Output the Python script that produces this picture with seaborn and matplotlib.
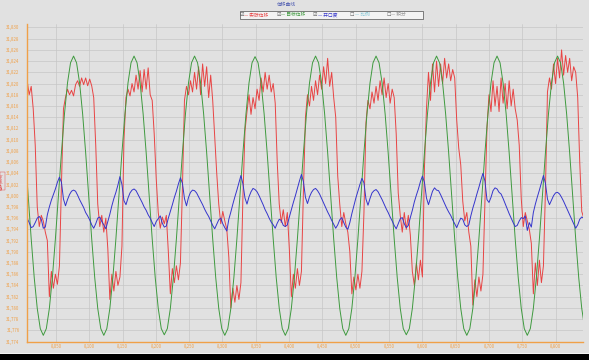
import numpy as np
import matplotlib
matplotlib.use("Agg")
import matplotlib.pyplot as plt
from matplotlib.ticker import FuncFormatter
from matplotlib.patches import Rectangle
import seaborn as sns

# 位移曲线：数值单位 µm，相对于 31.800 mm
BASE_MM = 31.800
START_S = 8.00368      # 第一个采样点 (s)
DT_RB = 0.003028       # 实际位移 / 开口度 采样间隔 (s)
DT_G = 0.004542        # 目标位移 采样间隔 (s)

actual_um = [
    19.5, 20.5, 18.0, 19.5, 15.5, 9.0, -2.0, -5.5, -3.5,
    -4.5, -6.5, -8.0, -18.0, -13.5, -16.5, -14.0, -15.8, -12.5, 2.0,
    15.5, 17.5, 19.0, 18.0, 18.8, 17.8, 19.8, 20.5, 19.5, 21.0,
    19.8, 21.0, 19.6, 20.8, 19.6, 17.5, 9.0, -1.5, -5.5, -3.5,
    -6.5, -4.0, -9.5, -18.5, -14.0, -17.0, -13.5, -16.0, -14.5, -9.0,
    10.0, 17.5, 19.0, 17.8, 20.0, 18.5, 21.5, 19.0, 22.3, 18.5,
    22.5, 19.0, 22.8, 18.0, 17.0, 11.0, 3.0, -3.0, -5.8, -3.8,
    -5.0, -3.5, -10.0, -17.5, -13.0, -15.5, -12.5, -15.0, -12.0, 1.5,
    17.0, 19.5, 18.0, 20.5, 18.5, 22.0, 19.0, 23.0, 18.0, 23.5,
    19.5, 23.0, 17.5, 21.5, 17.0, 10.5, 4.0, -1.5, -5.0, -2.8,
    -4.5, -6.0, -11.0, -20.0, -16.5, -19.0, -16.0, -18.5, -15.5, 0.0,
    11.5, 15.0, 18.0, 14.5, 17.5, 15.5, 19.0, 17.0, 21.0, 18.5,
    22.0, 19.0, 21.5, 18.5, 20.0, 16.5, 6.0, -1.5, -4.8, -2.5,
    -5.5, -3.0, -9.5, -18.0, -14.0, -16.5, -13.0, -16.0, -13.5, 1.0,
    14.0, 18.0, 16.0, 19.5, 17.0, 20.5, 18.0, 21.5, 19.0, 23.0,
    20.0, 24.5, 19.5, 22.0, 17.5, 14.0, 3.5, -1.5, -5.5, -3.0,
    -5.0, -6.5, -10.0, -17.5, -14.5, -16.8, -14.0, -16.5, -13.5, -3.0,
    13.0, 17.0, 15.5, 18.5, 16.5, 19.5, 17.0, 20.5, 18.0, 21.0,
    17.5, 20.0, 16.5, 19.0, 17.5, 11.0, 0.5, -3.5, -6.5, -3.0,
    -6.0, -3.5, -7.0, -13.5, -16.0, -12.0, -15.0, -11.5, -14.5, 5.0,
    15.5, 22.0, 17.0, 23.5, 18.5, 24.0, 19.5, 23.5, 20.0, 24.5,
    21.0, 23.5, 20.5, 22.5, 21.0, 13.5, 8.5, 5.5, -1.0, -4.5,
    -3.0, -6.5, -9.0, -19.5, -15.0, -18.0, -14.5, -17.0, -14.0, -1.0,
    12.0, 18.0, 15.0, 20.5, 16.0, 19.5, 15.0, 21.0, 16.5, 20.0,
    15.5, 20.5, 16.0, 19.0, 15.5, 13.5, 9.0, -0.5, -5.5, -3.0,
    -4.5, -6.0, -8.5, -17.5, -12.0, -16.0, -11.5, -15.5, -12.5, 1.0,
    18.5, 21.0, 19.0, 23.5, 20.0, 24.5, 21.0, 26.0, 21.5, 25.0,
    22.0, 24.5, 20.5, 23.0, 22.0, 17.5, 6.0, -2.8, -4.0,
]

target_um = [
    7.7, 0.0, -7.7, -14.6, -20.1, -23.7,
    -24.9, -23.7, -20.1, -14.6, -7.7, 0.0, 7.7, 14.6, 20.1, 23.7,
    24.9, 23.7, 20.1, 14.6, 7.7, 0.0, -7.7, -14.6, -20.1, -23.7,
    -24.9, -23.7, -20.1, -14.6, -7.7, 0.0, 7.7, 14.6, 20.1, 23.7,
    24.9, 23.7, 20.1, 14.6, 7.7, 0.0, -7.7, -14.6, -20.1, -23.7,
    -24.8, -23.7, -20.1, -14.6, -7.7, 0.0, 7.7, 14.6, 20.1, 23.7,
    24.9, 23.7, 20.1, 14.6, 7.7, 0.0, -7.7, -14.6, -20.1, -23.7,
    -24.9, -23.7, -20.1, -14.6, -7.7, 0.0, 7.7, 14.6, 20.1, 23.7,
    24.8, 23.7, 20.1, 14.6, 7.7, 0.0, -7.7, -14.6, -20.1, -23.7,
    -24.9, -23.7, -20.1, -14.6, -7.7, 0.0, 7.7, 14.6, 20.1, 23.7,
    24.9, 23.7, 20.1, 14.6, 7.7, 0.0, -7.7, -14.6, -20.1, -23.7,
    -24.9, -23.7, -20.1, -14.6, -7.7, 0.0, 7.7, 14.6, 20.1, 23.7,
    24.9, 23.7, 20.1, 14.6, 7.7, 0.0, -7.7, -14.6, -20.1, -23.7,
    -24.8, -23.7, -20.1, -14.6, -7.7, 0.0, 7.7, 14.6, 20.1, 23.7,
    24.9, 23.7, 20.1, 14.6, 7.7, 0.0, -7.7, -14.6, -20.1, -23.7,
    -24.9, -23.7, -20.1, -14.6, -7.7, 0.0, 7.7, 14.6, 20.1, 23.7,
    24.9, 23.7, 20.1, 14.6, 7.7, 0.0, -7.7, -14.6, -20.1, -23.7,
    -24.9, -23.7, -20.1, -14.6, -7.7, 0.0, 7.7, 14.6, 20.1, 23.7,
    24.9, 23.7, 20.1, 14.6, 7.7, 0.0, -7.7, -14.6, -20.1, -23.7,
]

opening_um = [
    -3.4, -4.0, -4.8, -5.7, -5.5, -4.8, -4.0, -3.7, -4.2,
    -5.8, -5.6, -3.4, -2.0, -0.8, 0.2, 1.2, 2.4, 3.3, 2.4,
    -0.6, -1.8, -0.7, 0.2, 0.8, 1.0, 0.8, 0.1, -0.7, -1.4,
    -2.1, -3.0, -3.6, -4.3, -5.2, -5.8, -5.0, -4.0, -3.8, -4.6,
    -5.2, -5.9, -4.6, -3.3, -1.8, -0.5, 0.6, 1.9, 3.4, 2.0,
    -0.9, -1.6, -0.4, 0.5, 1.0, 1.2, 0.9, 0.2, -0.5, -1.2,
    -2.0, -2.6, -3.4, -4.0, -4.8, -5.5, -4.6, -4.1, -3.6, -4.9,
    -5.6, -5.4, -4.0, -2.8, -1.6, -0.3, 0.8, 2.1, 3.2, 2.2,
    -0.5, -1.8, -0.3, 0.6, 1.0, 0.9, 0.5, -0.2, -0.9, -1.6,
    -2.4, -3.1, -3.7, -4.5, -5.3, -5.9, -5.1, -4.3, -4.0, -5.0,
    -5.7, -6.3, -4.2, -2.9, -1.5, -0.2, 1.0, 2.3, 3.6, 2.1,
    -0.4, -1.5, -0.2, 0.7, 1.3, 1.1, 0.7, 0.0, -0.8, -1.6,
    -2.5, -3.2, -4.0, -4.7, -5.2, -5.8, -4.9, -4.2, -4.4, -5.3,
    -5.5, -5.2, -3.8, -2.5, -1.2, 0.0, 1.3, 2.6, 3.8, 2.5,
    -0.3, -1.4, -0.2, 0.6, 1.1, 1.3, 0.9, 0.3, -0.5, -1.3,
    -2.1, -2.9, -3.6, -4.4, -5.1, -5.8, -5.2, -4.3, -3.9, -4.8,
    -5.6, -6.0, -4.8, -3.2, -1.8, -0.4, 0.8, 2.0, 3.1, 2.3,
    -0.6, -1.7, -0.5, 0.5, 0.9, 1.1, 0.7, 0.0, -0.7, -1.5,
    -2.3, -3.0, -3.8, -4.5, -5.3, -5.9, -5.0, -4.1, -3.9, -5.0,
    -5.7, -5.3, -3.9, -2.6, -1.1, 0.1, 1.2, 2.5, 3.5, 2.4,
    -0.4, -1.6, -0.4, 0.8, 1.4, 1.0, 0.9, 0.2, -0.6, -1.4,
    -2.2, -2.9, -3.5, -4.3, -5.0, -5.7, -4.8, -4.0, -4.2, -5.2,
    -5.5, -5.2, -3.6, -2.2, -1.0, 0.3, 1.5, 2.8, 4.0, 2.6,
    -0.7, -1.2, -0.3, 0.9, 1.4, 1.2, 0.6, 0.3, -0.5, -1.4,
    -2.3, -3.2, -4.0, -4.8, -5.5, -5.3, -4.5, -3.9, -4.1, -3.6,
    -6.2, -4.8, -5.6, -3.0, -1.5, -0.2, 1.0, 2.3, 3.6, 2.2,
    -0.6, -1.6, -0.8, 0.0, 0.5, 0.6, 0.3, -0.3, -1.0, -1.8,
    -2.6, -3.4, -4.2, -5.0, -5.8, -5.2, -4.2, -3.8, -4.0,
]

legend_labels = ['实际位移', '目标位移', '开口度', '比例', '积分']
legend_colors = ['#e84444', '#3f9a3f', '#3535cc', '#7cc4d4', '#909090']
legend_checked = [True, True, True, False, False]

W, H = 589, 360
BG = '#e1e1e1'
ORANGE = '#f0a048'

sns.set_theme(style="whitegrid")
plt.rcParams['font.family'] = ['Noto Sans CJK SC', 'DejaVu Sans']
plt.rcParams['axes.unicode_minus'] = False

fig = plt.figure(figsize=(W / 100, H / 100), dpi=100, facecolor=BG)
ax = fig.add_axes([26.5 / W, 1 - 341.5 / H, (583 - 26.5) / W, (341.5 - 23.5) / H])
ax.set_facecolor(BG)

t_rb = START_S + DT_RB * np.arange(len(actual_um))
t_op = START_S + DT_RB * np.arange(len(opening_um))
t_g = START_S + DT_G * np.arange(len(target_um))

to_mm = lambda v: BASE_MM + np.asarray(v) / 1000.0

sns.lineplot(x=t_rb, y=to_mm(actual_um), ax=ax, color=legend_colors[0],
             linewidth=0.7, estimator=None, legend=False)
sns.lineplot(x=t_g, y=to_mm(target_um), ax=ax, color=legend_colors[1],
             linewidth=0.7, estimator=None, legend=False)
sns.lineplot(x=t_op, y=to_mm(opening_um), ax=ax, color=legend_colors[2],
             linewidth=0.7, estimator=None, legend=False)

ax.set_xlim(8.00571, 8.84129)
ax.set_ylim(31.774, 31.83071)
ax.set_xticks(np.round(np.arange(8.05, 8.801, 0.05), 3))
ax.set_yticks(np.round(np.arange(31.774, 31.8305, 0.002), 3))
fmt = FuncFormatter(lambda v, p: f"{v:.3f}".replace('.', ','))
ax.xaxis.set_major_formatter(fmt)
ax.yaxis.set_major_formatter(fmt)
ax.tick_params(axis='both', length=0, labelsize=3.1, labelcolor=ORANGE)
ax.tick_params(axis='x', pad=2.0)
ax.tick_params(axis='y', pad=5.0)
ax.set_xlabel('')
ax.set_ylabel('')
ax.grid(True, color='#c6c6c6', linewidth=0.5)
ax.set_axisbelow(True)
for side in ['top', 'right']:
    ax.spines[side].set_visible(False)
for side in ['left', 'bottom']:
    ax.spines[side].set_color(ORANGE)
    ax.spines[side].set_linewidth(1.0)

# 标题与纵轴名
fig.text(286 / W, 1 - 4.5 / H, '位移曲线', color='#4a58b0', fontsize=3.4,
         ha='center', va='center')
fig.text(2.3 / W, 1 - 181 / H, '位移(mm)', color='#e04040', fontsize=2.7,
         rotation=90, ha='center', va='center',
         bbox=dict(boxstyle='square,pad=0.05', fc='none', ec='#e04040', lw=0.3))

# 图例框（带复选框）
fig.patches.append(Rectangle((239.5 / W, 1 - 18.5 / H), 183.5 / W, 7.5 / H,
                             transform=fig.transFigure, facecolor='#f3f3f3',
                             edgecolor='#505050', linewidth=0.5))
item_x = [241.5, 278.3, 315.0, 351.7, 388.3]
for xp, lab, col, chk in zip(item_x, legend_labels, legend_colors, legend_checked):
    fig.text(xp / W, 1 - 14.8 / H, '☑' if chk else '☐', color='#555555',
             fontsize=3.6, ha='center', va='center',
             family=['DejaVu Sans', 'Noto Sans CJK SC'])
    fig.text((xp + 3) / W, 1 - 14.8 / H, '— ' + lab, color=col, fontsize=3.4,
             ha='left', va='center')

# 底部黑边
fig.patches.append(Rectangle((0, 0), 1, 6 / H, transform=fig.transFigure,
                             facecolor='black', edgecolor='none'))
fig.patches.append(Rectangle((0, 6 / H), 1, 1.5 / H, transform=fig.transFigure,
                             facecolor='#f4f4f4', edgecolor='none'))

fig.savefig('out.png', dpi=100, facecolor=BG)
